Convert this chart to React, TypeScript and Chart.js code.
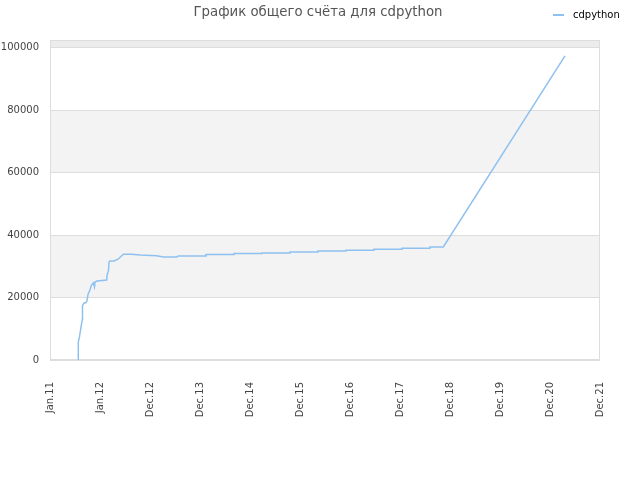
import React, { useEffect, useRef } from "react";
import { Chart, registerables } from "chart.js";

Chart.register(...registerables);

const titleText = "График общего счёта для cdpython";
const seriesName = "cdpython";
const xTickLabels = ["Jan.11", "Jan.12", "Dec.12", "Dec.13", "Dec.14", "Dec.15", "Dec.16", "Dec.17", "Dec.18", "Dec.19", "Dec.20", "Dec.21"];
// x positions in tick-index units (0 = Jan.11, 1 = Jan.12, 2 = Dec.12, ...)
const seriesX = [
  0.566, 0.566, 0.59, 0.61, 0.63, 0.646, 0.65, 0.68, 0.72, 0.74, 0.76, 0.8, 0.83, 0.866, 0.89, 0.9, 0.94,
  1.134, 1.14, 1.17, 1.18, 1.2, 1.28, 1.36, 1.466, 1.634, 1.8, 2.134, 2.266, 2.534, 2.566,
  3.12, 3.12, 3.68, 3.68, 4.24, 4.24, 4.8, 4.8, 5.36, 5.36, 5.92, 5.92, 6.48, 6.48, 7.04, 7.04, 7.6, 7.6, 7.866, 10.3,
];
const seriesY = [
  0, 5750, 7500, 9500, 11500, 13000, 17500, 18200, 18400, 19000, 21000, 22500, 24000, 24700, 23400, 25000, 25300,
  25600, 27100, 28700, 31400, 31700, 31700, 32300, 33900, 33900, 33600, 33400, 33000, 33000, 33350,
  33350, 33770, 33770, 34090, 34090, 34280, 34280, 34600, 34600, 34920, 34920, 35140, 35140, 35460, 35460, 35780, 35780, 36200, 36200, 97440,
];
const yTickValues = [0, 20000, 40000, 60000, 80000, 100000];
const yMax = 102400;

const lineColor = "#8fc1f0";
const gridColor = "#dddddd";
const fontFamily = "'DejaVu Sans', sans-serif";

const bandsPlugin = {
  id: "bands",
  beforeDraw(chart: any) {
    const { ctx, chartArea } = chart;
    const y = chart.scales.y;
    if (!chartArea) return;
    ctx.save();
    const bounds = [...yTickValues, yMax];
    for (let i = 0; i < bounds.length - 1; i++) {
      if (i % 2 === 1) {
        const top = y.getPixelForValue(bounds[i + 1]);
        const bottom = y.getPixelForValue(bounds[i]);
        ctx.fillStyle = i === bounds.length - 2 ? "#ececec" : "#f3f3f3";
        ctx.fillRect(chartArea.left, top, chartArea.right - chartArea.left, bottom - top);
      }
    }
    ctx.restore();
  },
  beforeDatasetsDraw(chart: any) {
    const { ctx, chartArea } = chart;
    ctx.save();
    ctx.strokeStyle = gridColor;
    ctx.lineWidth = 1;
    ctx.strokeRect(
      Math.round(chartArea.left) + 0.5,
      Math.round(chartArea.top) + 0.5,
      Math.round(chartArea.right - chartArea.left) - 1,
      Math.round(chartArea.bottom - chartArea.top) - 1
    );
    ctx.restore();
  },
};

const legendPlugin = {
  id: "customLegend",
  afterDraw(chart: any) {
    const { ctx } = chart;
    const ds = chart.data.datasets[0];
    ctx.save();
    ctx.strokeStyle = ds.borderColor;
    ctx.lineWidth = 2;
    ctx.beginPath();
    ctx.moveTo(553, 15);
    ctx.lineTo(564, 15);
    ctx.stroke();
    ctx.fillStyle = "#000000";
    ctx.font = `10px ${fontFamily}`;
    ctx.textBaseline = "middle";
    ctx.textAlign = "left";
    ctx.fillText(ds.label, 573, 15);
    ctx.restore();
  },
};

export default function App() {
  const ref = useRef<HTMLCanvasElement | null>(null);
  useEffect(() => {
    document.body.style.margin = "0";
    if (!ref.current) return;
    const points = seriesX.map((x, i) => ({ x, y: seriesY[i] }));
    const chart = new Chart(ref.current, {
      type: "line",
      data: {
        datasets: [
          {
            label: seriesName,
            data: points,
            borderColor: lineColor,
            backgroundColor: lineColor,
            borderWidth: 1.5,
            pointRadius: 0,
            tension: 0,
            fill: false,
          },
        ],
      },
      options: {
        animation: false,
        responsive: true,
        maintainAspectRatio: false,
        layout: { padding: { left: 0, right: 4, top: 0, bottom: 0 } },
        plugins: {
          legend: { display: false },
          tooltip: { enabled: false },
          title: {
            display: true,
            text: titleText,
            color: "#555555",
            font: { family: fontFamily, size: 13.3, weight: "normal" },
            padding: { top: 5, bottom: 19.4 },
          },
        },
        scales: {
          x: {
            type: "linear",
            min: 0,
            max: 11,
            grid: { display: false },
            border: { display: false },
            afterFit(scale: any) {
              scale.height = 120;
            },
            ticks: {
              stepSize: 1,
              autoSkip: false,
              minRotation: 90,
              maxRotation: 90,
              padding: 14,
              color: "#444444",
              font: { family: fontFamily, size: 10 },
              callback: (v: any) => xTickLabels[Math.round(Number(v))] ?? "",
            },
          },
          y: {
            type: "linear",
            min: 0,
            max: yMax,
            grid: { color: gridColor, drawTicks: false },
            border: { display: false },
            afterFit(scale: any) {
              scale.width = 50;
            },
            afterBuildTicks(scale: any) {
              scale.ticks = yTickValues.map((v) => ({ value: v }));
            },
            ticks: {
              padding: 11,
              color: "#444444",
              font: { family: fontFamily, size: 10 },
              callback: (v: any) => String(v),
            },
          },
          yRight: {
            type: "linear",
            position: "right",
            display: true,
            grid: { display: false },
            border: { display: false },
            ticks: { display: false },
            afterFit(scale: any) {
              scale.width = 36;
            },
          },
        },
      },
      plugins: [bandsPlugin, legendPlugin],
    });
    return () => chart.destroy();
  }, []);
  return (
    <div style={{ width: 640, height: 480, position: "relative" }}>
      <canvas ref={ref} />
    </div>
  );
}
